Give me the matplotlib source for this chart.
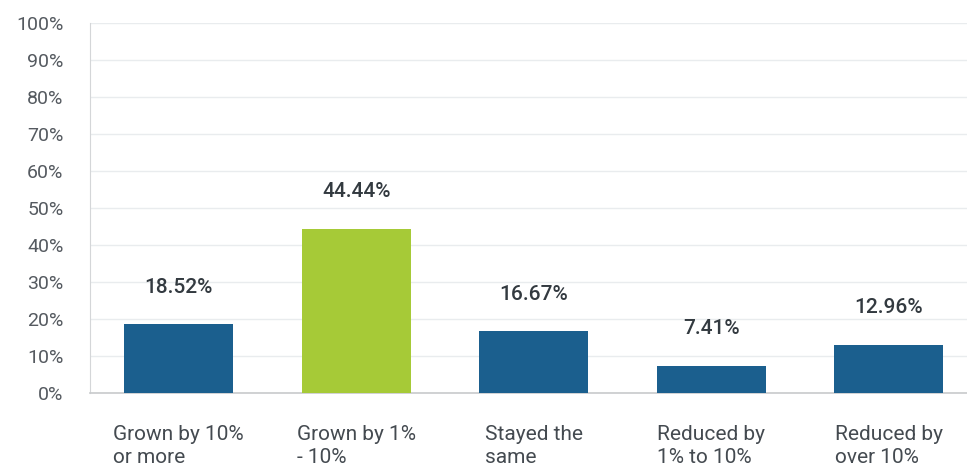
import numpy as np
import matplotlib.pyplot as plt

categorias = ["Grown by 10%\nor more", "Grown by 1%\n- 10%", "Stayed the\nsame",
              "Reduced by\n1% to 10%", "Reduced by\nover 10%"]
valores = [18.52, 44.44, 16.67, 7.41, 12.96]
cores = ["#1b5f8e", "#a6ca37", "#1b5f8e", "#1b5f8e", "#1b5f8e"]
ticks_y = list(range(0, 101, 10))

plt.rcParams['font.family'] = ['Roboto', 'DejaVu Sans']

fig = plt.figure(figsize=(9.67, 4.68), dpi=100)
ax = fig.add_axes([90 / 967, 75 / 468, 887.5 / 967, 370 / 468])

x = np.arange(len(categorias))
ax.bar(x, valores, width=0.615, color=cores, zorder=3)

# rotulos de valor acima das barras
for xi, v in zip(x, valores):
    ax.annotate(f'{v:.2f}%', (xi, v), xytext=(0, 20), textcoords='offset points',
                ha='center', va='bottom', fontsize=15, color='#333a40', fontweight='medium')

ax.set_xlim(-0.5, len(categorias) - 0.5)
ax.set_ylim(0, 100)
ax.set_yticks(ticks_y)
ax.set_yticklabels([f'{t}%' for t in ticks_y], fontsize=14, color='#555a60')
ax.set_xticks(x)
ax.set_xticklabels(categorias, fontsize=15, color='#444a50', ha='center',
                   multialignment='left', va='top', linespacing=1.25)
ax.tick_params(axis='x', length=0, pad=23)
ax.tick_params(axis='y', length=0, pad=19)

ax.grid(axis='y', color='#e9ecee', linewidth=1, zorder=0)
for lado in ['top', 'right']:
    ax.spines[lado].set_visible(False)
ax.spines['left'].set_color('#d4d6d8')
ax.spines['bottom'].set_color('#c8cacc')
ax.spines['bottom'].set_linewidth(1.2)

fig.savefig('out.png', dpi=100)
